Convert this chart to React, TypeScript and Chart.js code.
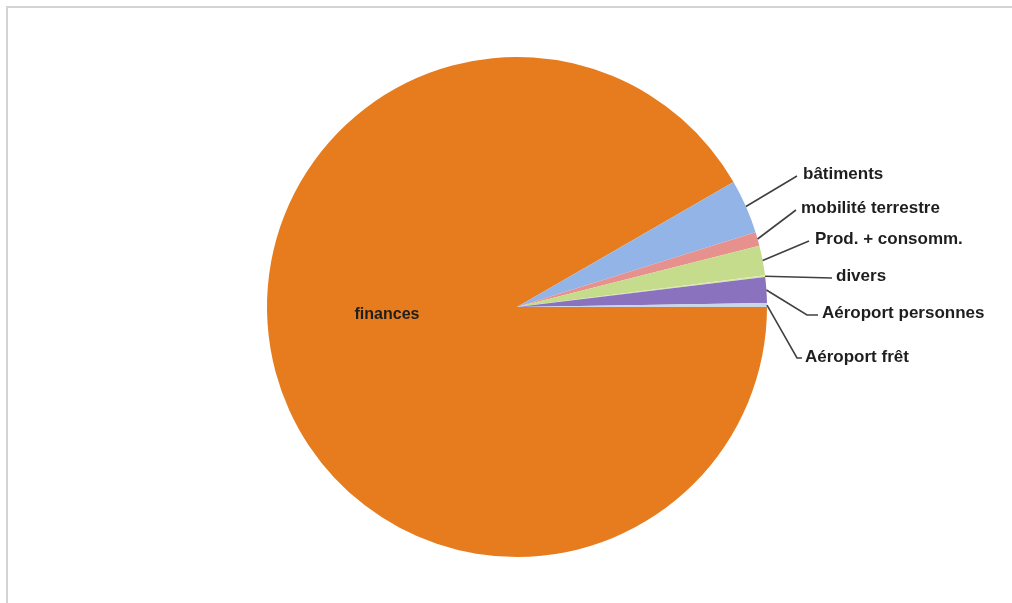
import React, { useEffect, useRef } from "react";
import { Chart, registerables } from "chart.js";

Chart.register(...registerables);

const categories = [
  "finances",
  "bâtiments",
  "mobilité terrestre",
  "Prod. + consomm.",
  "divers",
  "Aéroport personnes",
  "Aéroport frêt",
];
const values = [91.67, 3.5, 0.89, 1.92, 0.11, 1.66, 0.25];
const colors = ["#E67C1E", "#93B4E6", "#E7918E", "#C5DC8C", "#D8E6A8", "#8A72BE", "#C9D6E6"];

// label layout (text anchor x, y; elbow x, y) — styling only
const labelLayout: Record<string, { tx: number; ty: number; ex: number; ey: number; hx?: number }> = {
  "bâtiments": { tx: 803, ty: 174, ex: 797, ey: 176 },
  "mobilité terrestre": { tx: 801, ty: 208, ex: 796, ey: 210 },
  "Prod. + consomm.": { tx: 815, ty: 239, ex: 809, ey: 241 },
  "divers": { tx: 836, ty: 276, ex: 832, ey: 278 },
  "Aéroport personnes": { tx: 822, ty: 313, ex: 807, ey: 315, hx: 818 },
  "Aéroport frêt": { tx: 805, ty: 357, ex: 797, ey: 358, hx: 802 },
};

const labelPlugin = {
  id: "pieLabels",
  afterDatasetsDraw(chart: any) {
    const ctx = chart.ctx;
    const meta = chart.getDatasetMeta(0);
    ctx.save();
    ctx.fillStyle = "#1e1e1e";
    ctx.textBaseline = "middle";
    ctx.textAlign = "left";
    meta.data.forEach((arc: any, i: number) => {
      const name = categories[i];
      const p = arc.getProps(["x", "y", "startAngle", "endAngle", "outerRadius"], true);
      const mid = (p.startAngle + p.endAngle) / 2;
      if (name === "finances") {
        ctx.font = "bold 16px 'Liberation Sans', Arial, sans-serif";
        ctx.textAlign = "center";
        ctx.fillText(name, p.x - 130, p.y + 8);
        ctx.textAlign = "left";
        return;
      }
      const L = labelLayout[name];
      if (!L) return;
      const sx = p.x + Math.cos(mid) * p.outerRadius;
      const sy = p.y + Math.sin(mid) * p.outerRadius;
      ctx.strokeStyle = "#404040";
      ctx.lineWidth = 1.6;
      ctx.beginPath();
      ctx.moveTo(sx, sy);
      ctx.lineTo(L.ex, L.ey);
      if (L.hx) ctx.lineTo(L.hx, L.ey);
      ctx.stroke();
      ctx.font = "bold 17px 'Liberation Sans', Arial, sans-serif";
      ctx.fillText(name, L.tx, L.ty);
    });
    ctx.restore();
  },
};

export default function App() {
  const ref = useRef<HTMLCanvasElement | null>(null);
  useEffect(() => {
    document.body.style.margin = "0";
    if (!ref.current) return;
    const chart = new Chart(ref.current, {
      type: "pie",
      data: {
        labels: categories,
        datasets: [
          {
            data: values,
            backgroundColor: colors,
            borderWidth: 0,
          },
        ],
      },
      options: {
        animation: false,
        responsive: false,
        rotation: 90,
        layout: { padding: { left: 267, right: 245, top: 57, bottom: 46 } },
        plugins: {
          legend: { display: false },
          tooltip: { enabled: false },
        },
      },
      plugins: [labelPlugin],
    });
    return () => chart.destroy();
  }, []);
  return (
    <div style={{ position: "relative", width: 1012, height: 603, background: "#fff", overflow: "hidden" }}>
      <div
        style={{
          position: "absolute",
          left: 6,
          top: 6,
          width: 1010,
          height: 600,
          borderTop: "2px solid #d4d4d4",
          borderLeft: "2px solid #d4d4d4",
        }}
      />
      <canvas ref={ref} width={1012} height={603} style={{ position: "absolute", left: 0, top: 0 }} />
    </div>
  );
}
